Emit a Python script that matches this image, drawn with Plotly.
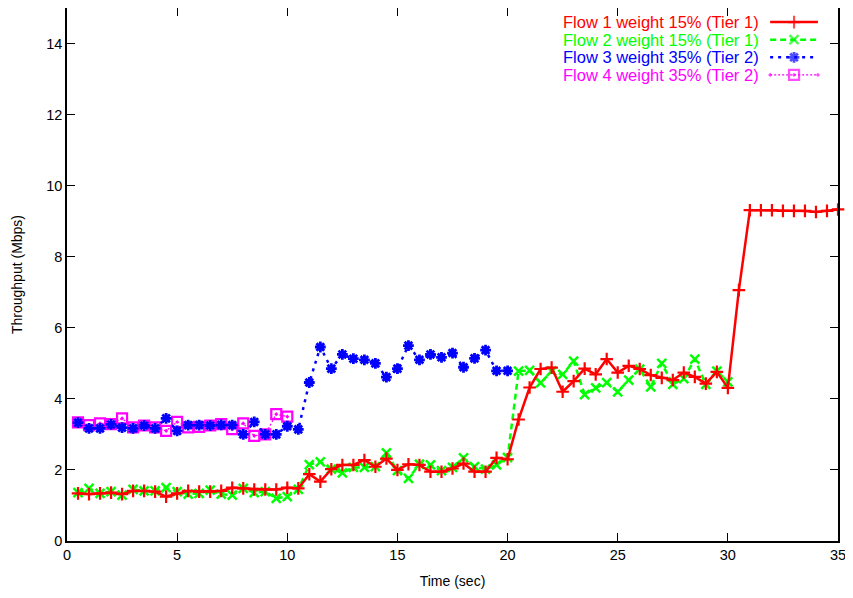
import plotly.graph_objects as go

# ---- data ----
t_flow1 = [0.5 * i for i in range(1, 71)]          # 0.5 .. 35
t_flow2 = [0.5 * i for i in range(1, 61)]          # 0.5 .. 30
t_flow3 = [0.5 * i for i in range(1, 41)]          # 0.5 .. 20
t_flow4 = [0.5 * i for i in range(1, 21)]          # 0.5 .. 10

flow1 = [1.34, 1.32, 1.34, 1.36, 1.32, 1.41, 1.41, 1.39, 1.25, 1.34,
         1.41, 1.39, 1.39, 1.41, 1.50, 1.48, 1.45, 1.45, 1.45, 1.50,
         1.48, 1.88, 1.67, 2.02, 2.14, 2.14, 2.28, 2.09, 2.32, 2.00,
         2.16, 2.14, 1.95, 1.95, 2.04, 2.18, 1.95, 1.95, 2.34, 2.30,
         3.42, 4.32, 4.84, 4.88, 4.20, 4.50, 4.85, 4.69, 5.12, 4.74,
         4.93, 4.84, 4.67, 4.59, 4.53, 4.74, 4.62, 4.43, 4.76, 4.31,
         7.06, 9.31, 9.31, 9.31, 9.29, 9.29, 9.29, 9.26, 9.29, 9.33]

flow2 = [1.36, 1.48, 1.34, 1.39, 1.29, 1.45, 1.41, 1.41, 1.50, 1.39,
         1.32, 1.34, 1.43, 1.32, 1.29, 1.48, 1.36, 1.39, 1.20, 1.25,
         1.45, 2.15, 2.23, 2.02, 1.92, 2.07, 2.07, 2.09, 2.48, 1.98,
         1.76, 2.16, 2.14, 1.98, 2.07, 2.34, 2.09, 2.02, 2.14, 2.35,
         4.78, 4.80, 4.45, 4.78, 4.69, 5.06, 4.12, 4.31, 4.46, 4.20,
         4.53, 4.84, 4.34, 5.00, 4.41, 4.57, 5.12, 4.41, 4.78, 4.48]

flow3 = [3.33, 3.17, 3.17, 3.28, 3.19, 3.17, 3.25, 3.17, 3.45, 3.10,
         3.26, 3.26, 3.25, 3.27, 3.26, 3.00, 3.35, 3.00, 3.00, 3.23,
         3.14, 4.46, 5.46, 4.85, 5.25, 5.13, 5.10, 5.00, 4.61, 4.85,
         5.50, 5.10, 5.25, 5.17, 5.29, 4.89, 5.14, 5.37, 4.79, 4.79]

flow4 = [3.34, 3.26, 3.31, 3.29, 3.45, 3.20, 3.25, 3.20, 3.10, 3.35,
         3.20, 3.21, 3.25, 3.29, 3.15, 3.31, 2.96, 3.00, 3.57, 3.50]

names = ["Flow 1 weight 15% (Tier 1)", "Flow 2 weight 15% (Tier 1)",
         "Flow 3 weight 35% (Tier 2)", "Flow 4 weight 35% (Tier 2)"]

x_ticks = [0, 5, 10, 15, 20, 25, 30, 35]
y_ticks = [0, 2, 4, 6, 8, 10, 12, 14]

# ---- styles ----
FONT = "Liberation Sans, Arial, sans-serif"
styles = [
    dict(color="#FF0000", dash="solid", lw=2.5, symbol="cross-thin-open", msize=9, mlw=2.2),
    dict(color="#00FF00", dash="6px,4px", lw=2.5, symbol="x-thin-open", msize=9, mlw=2.5),
    dict(color="#0000FF", dash="3px,5px", lw=2.5, symbol="asterisk-open", msize=9, mlw=2.8),
    dict(color="#FF00FF", dash="2px,2px", lw=1.3, symbol="square-open-dot", msize=10, mlw=2.2),
]

fig = go.Figure()
series = [(t_flow1, flow1), (t_flow2, flow2), (t_flow3, flow3), (t_flow4, flow4)]
order = [3, 2, 1, 0]  # draw flow1 on top
for i in order:
    xs, ys = series[i]
    s = styles[i]
    fig.add_trace(go.Scatter(
        x=xs, y=ys, mode="lines+markers", name=names[i], showlegend=False,
        line=dict(color=s["color"], width=s["lw"], dash=s["dash"]),
        marker=dict(symbol=s["symbol"], size=s["msize"], color=s["color"],
                    line=dict(color=s["color"], width=s["mlw"])),
        cliponaxis=False,
    ))

# ---- gnuplot-style key (text on the left, sample on the right) ----
key_rows = [0.9735, 0.9405, 0.9075, 0.8745]
for i, name in enumerate(names):
    s = styles[i]
    yk = key_rows[i]
    fig.add_trace(go.Scatter(
        x=[0.912, 0.943, 0.974], y=[yk, yk, yk], xaxis="x2", yaxis="y2",
        mode="lines+markers", showlegend=False, hoverinfo="skip",
        line=dict(color=s["color"], width=s["lw"], dash=s["dash"]),
        marker=dict(symbol=s["symbol"], size=[0, s["msize"], 0], color=s["color"],
                    line=dict(color=s["color"], width=s["mlw"])),
        cliponaxis=False,
    ))
    fig.add_annotation(x=0.899, y=yk, xref="paper", yref="paper", text=name,
                       showarrow=False, xanchor="right", yanchor="middle",
                       borderpad=0,
                       font=dict(family=FONT, size=16.5, color=s["color"]))

axis_common = dict(showline=True, linecolor="black", linewidth=1.5, mirror="ticks",
                   ticks="inside", ticklen=8, tickwidth=1.2, tickcolor="black",
                   showgrid=False, zeroline=False,
                   tickfont=dict(family=FONT, size=14.5, color="black"))

fig.update_layout(
    width=853, height=598,
    margin=dict(l=59, r=23, t=0, b=65, autoexpand=False),
    paper_bgcolor="white", plot_bgcolor="white",
    xaxis=dict(range=[0, 35], tickvals=x_ticks, ticktext=[str(v) for v in x_ticks],
               title=dict(text="Time (sec)", font=dict(family=FONT, size=14, color="black"),
                          standoff=14),
               **axis_common),
    yaxis=dict(range=[0, 15], tickvals=y_ticks, ticktext=[str(v) for v in y_ticks],
               title=dict(text="Throughput (Mbps)", font=dict(family=FONT, size=14, color="black"),
                          standoff=20),
               **axis_common),
    xaxis2=dict(overlaying="x", range=[0, 1], visible=False),
    yaxis2=dict(overlaying="y", range=[0, 1], visible=False),
    showlegend=False,
)

fig.write_html("out.html")
